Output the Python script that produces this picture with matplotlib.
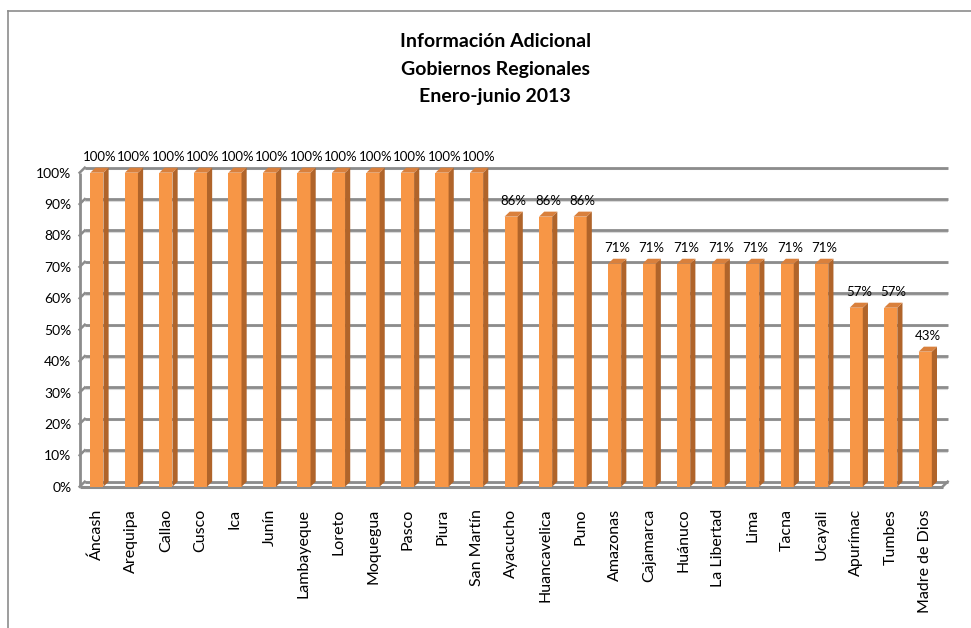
import numpy as np
import matplotlib.pyplot as plt
from matplotlib.patches import Polygon
from matplotlib.lines import Line2D

regiones = ['Áncash', 'Arequipa', 'Callao', 'Cusco', 'Ica', 'Junín', 'Lambayeque',
            'Loreto', 'Moquegua', 'Pasco', 'Piura', 'San Martín', 'Ayacucho',
            'Huancavelica', 'Puno', 'Amazonas', 'Cajamarca', 'Huánuco', 'La Libertad',
            'Lima', 'Tacna', 'Ucayali', 'Apurímac', 'Tumbes', 'Madre de Dios']
valores = [100, 100, 100, 100, 100, 100, 100, 100, 100, 100, 100, 100, 86,
           86, 86, 71, 71, 71, 71, 71, 71, 71, 57, 57, 43]
ticks = [0, 10, 20, 30, 40, 50, 60, 70, 80, 90, 100]

plt.rcParams['font.family'] = ['Lato', 'DejaVu Sans']

naranja = '#F79646'
lado = '#B0642A'
arriba = '#D9803C'
gris = '#8C8C8C'

fig = plt.figure(figsize=(9.71, 6.28), dpi=100)
ax = fig.add_axes([0.082, 0.225, 0.894, 0.500])

n = len(regiones)
x = np.arange(n)
w = 0.38          # front width of bars
dx, dy = 0.15, 1.6  # 3d depth offset

# back wall grid lines (with a light shadow underneath)
yy = np.array(ticks) + dy
ax.hlines(yy - 0.5, -0.5 + dx, n - 0.5 + dx, colors='#D9D9D9', linewidth=1.5, zorder=1,
          clip_on=False)
ax.hlines(yy, -0.5 + dx, n - 0.5 + dx, colors=gris, linewidth=2.0, zorder=2, clip_on=False)
for t in ticks:
    ax.plot([-0.5, -0.5 + dx], [t, t + dy], color=gris, lw=1.8, zorder=2, clip_on=False)
# left wall and floor
ax.vlines(-0.5, 0, 100, colors=gris, linewidth=2.0, zorder=2, clip_on=False)
ax.hlines(0, -0.5, n - 0.5, colors=gris, linewidth=2.2, zorder=2, clip_on=False)
ax.plot([n - 0.5, n - 0.5 + dx], [0, dy], color=gris, lw=1.8, zorder=2, clip_on=False)

# bars
ax.bar(x, valores, width=w, color=naranja, zorder=3)
for xi, v in zip(x, valores):
    r = xi + w / 2
    l = xi - w / 2
    ax.add_patch(Polygon([[r, 0], [r + dx, dy], [r + dx, v + dy], [r, v]],
                         closed=True, facecolor=lado, edgecolor='none', zorder=3,
                         clip_on=False))
    ax.add_patch(Polygon([[l, v], [l + dx, v + dy], [r + dx, v + dy], [r, v]],
                         closed=True, facecolor=arriba, edgecolor='none', zorder=3,
                         clip_on=False))
    ax.text(xi + dx / 2, v + dy + 1.5, f'{v}%', ha='center', va='bottom',
            fontsize=9.5, color='#000000')

ax.set_xlim(-0.5, n - 0.5 + dx)
ax.set_ylim(0, 100)
ax.set_yticks(ticks)
ax.set_yticklabels([f'{t}%' for t in ticks], fontsize=10)
ax.set_xticks(x)
ax.set_xticklabels(regiones, rotation=90, fontsize=11.5)
ax.tick_params(length=0, pad=6)
ax.tick_params(axis='x', pad=16)
for s in ax.spines.values():
    s.set_visible(False)

fig.text(0.51, 0.947, 'Información Adicional\nGobiernos Regionales\nEnero-junio 2013',
         ha='center', va='top', fontsize=14, fontweight='bold', linespacing=1.75)

# chart border
fig.add_artist(Line2D([8 / 971, 1], [1 - 11 / 628, 1 - 11 / 628], color='#8C8C8C', lw=1.2))
fig.add_artist(Line2D([8 / 971, 8 / 971], [0, 1 - 11 / 628], color='#8C8C8C', lw=1.2))

fig.savefig('out.png', dpi=100)
